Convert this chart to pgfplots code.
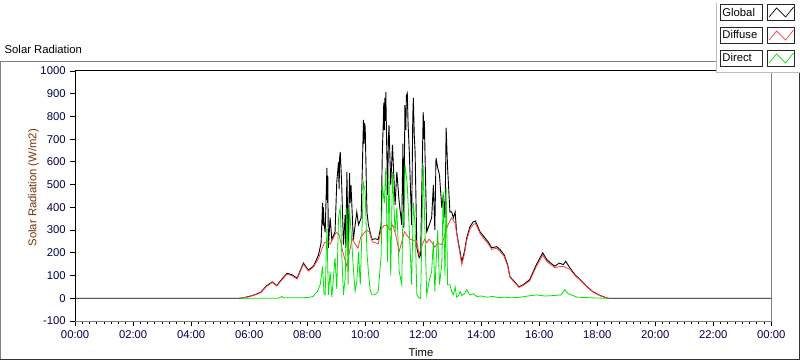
\documentclass[border=0pt]{standalone}
\usepackage{fontspec}
\setmainfont{Liberation Sans}
\usepackage{pgfplots}
\pgfplotsset{compat=1.18}
\definecolor{tickblue}{RGB}{0,0,80}
\definecolor{labbrown}{RGB}{120,50,10}
\definecolor{dgreen}{RGB}{0,230,0}
\definecolor{dred}{RGB}{255,60,60}
\definecolor{pgray}{RGB}{128,128,128}
\begin{document}
\begin{tikzpicture}[x=1pt,y=1pt,font=\fontsize{11.3}{13}\selectfont]
\path[fill=white] (0,0) rectangle (800,361);
\draw[pgray,line width=1pt] (0.5,2) -- (0.5,299) -- (717,299);
\draw[black!80,line width=1pt] (0,1.5) -- (799.5,1.5) -- (799.5,289);
\node[anchor=west,inner sep=0] at (4,311) {Solar Radiation};
\node[rotate=90,text=labbrown,inner sep=0] at (33,173) {Solar Radiation (W/m2)};
\node[inner sep=0] at (421,8) {Time};
\begin{axis}[at={(74.7pt,39.6pt)},anchor=south west,width=697pt,height=250.4pt,scale only axis,
  xmin=0,xmax=24,ymin=-100,ymax=1000,
  axis line style={draw=none},
  xtick={0,2,...,24},
  xticklabels={00:00,02:00,04:00,06:00,08:00,10:00,12:00,14:00,16:00,18:00,20:00,22:00,00:00},
  minor x tick num=7,
  ytick={-100,0,100,200,300,400,500,600,700,800,900,1000},
  yticklabels={-100,0,100,200,300,400,500,600,700,800,900,1000},
  tick align=outside, xtick pos=bottom, ytick pos=left,
  major tick length=5pt, minor tick length=3pt,
  tick style={black,line width=0.8pt},
  ticklabel style={font=\fontsize{11.3}{13}\selectfont,text=tickblue},
  xticklabel style={yshift=-1pt},
  yticklabel style={xshift=-1pt},
]
\addplot[black,line width=0.9pt] coordinates {
(0,0) (5.6,0) (5.75,1) (6.0,8) (6.2,16) (6.4,27) (6.6,55) (6.8,72) (6.95,56) (7.1,80) (7.3,110) (7.47,104) (7.65,88) (7.87,155) (8.04,124) (8.22,142) (8.39,190) (8.48,245) (8.53,420) (8.55,320) (8.56,400) (8.58,330) (8.62,290) (8.68,574) (8.70,420) (8.71,540) (8.73,222) (8.79,355) (8.85,258) (8.96,292) (9.02,512) (9.08,600) (9.10,480) (9.12,620) (9.14,644) (9.19,500) (9.25,236) (9.31,367) (9.33,222) (9.37,556) (9.41,205) (9.46,552) (9.48,420) (9.51,499) (9.59,258) (9.71,380) (9.77,323) (9.86,354) (9.94,785) (9.96,680) (9.98,770) (10.0,750) (10.06,380) (10.11,323) (10.23,258) (10.34,262) (10.45,258) (10.55,323) (10.59,644) (10.62,760) (10.64,860) (10.66,740) (10.68,881) (10.70,780) (10.71,907) (10.77,455) (10.80,700) (10.82,762) (10.88,499) (10.94,675) (11.03,411) (11.09,556) (11.17,425) (11.26,323) (11.30,680) (11.33,310) (11.37,850) (11.40,740) (11.42,890) (11.45,902) (11.48,760) (11.52,644) (11.6,323) (11.64,800) (11.66,881) (11.69,720) (11.72,644) (11.78,222) (11.86,178) (11.91,191) (12.0,819) (12.02,700) (12.04,780) (12.06,644) (12.12,292) (12.21,323) (12.29,354) (12.35,499) (12.40,300) (12.44,617) (12.5,574) (12.56,543) (12.64,398) (12.69,455) (12.75,354) (12.79,750) (12.84,574) (12.92,380) (12.98,380) (13.04,354) (13.1,380) (13.15,292) (13.21,248) (13.33,161) (13.42,205) (13.5,265) (13.61,315) (13.72,336) (13.8,340) (13.96,292) (14.13,265) (14.24,248) (14.36,222) (14.53,227) (14.65,214) (14.79,191) (14.91,148) (14.99,95) (15.14,74) (15.3,50) (15.45,60) (15.67,82) (15.9,148) (16.12,200) (16.26,170) (16.43,151) (16.54,141) (16.69,155) (16.83,148) (16.91,163) (17.06,133) (17.23,104) (17.41,82) (17.63,53) (17.86,28) (18.1,12) (18.37,0) (24,0)
};
\addplot[dred,line width=0.8pt] coordinates {
(5.7,0) (5.75,1) (6.0,7) (6.2,15) (6.4,25) (6.6,52) (6.8,70) (6.95,54) (7.1,77) (7.3,106) (7.47,100) (7.65,85) (7.87,150) (8.04,120) (8.22,138) (8.39,175) (8.5,215) (8.6,245) (8.7,250) (8.8,240) (8.9,265) (9.0,290) (9.1,280) (9.2,220) (9.3,170) (9.37,140) (9.45,200) (9.55,262) (9.65,240) (9.75,220) (9.85,270) (9.95,285) (10.05,300) (10.15,290) (10.25,248) (10.35,244) (10.45,240) (10.55,305) (10.65,320) (10.75,322) (10.85,300) (10.95,322) (11.05,280) (11.17,205) (11.26,248) (11.35,292) (11.45,275) (11.55,260) (11.65,255) (11.78,248) (11.86,191) (11.95,230) (12.05,260) (12.12,244) (12.2,260) (12.3,245) (12.4,225) (12.5,242) (12.64,236) (12.75,280) (12.85,323) (12.98,354) (13.1,330) (13.21,240) (13.33,148) (13.42,195) (13.5,255) (13.61,305) (13.72,323) (13.8,330) (13.96,285) (14.13,255) (14.24,240) (14.36,215) (14.53,220) (14.65,206) (14.79,184) (14.91,142) (14.99,92) (15.14,71) (15.3,48) (15.45,57) (15.67,76) (15.9,140) (16.12,190) (16.26,162) (16.43,145) (16.54,135) (16.69,139) (16.83,140) (16.91,135) (17.06,128) (17.23,100) (17.41,80) (17.63,51) (17.86,27) (18.1,11) (18.37,0) (18.4,0)
};
\addplot[dgreen,line width=0.8pt] coordinates {
(5.7,0) (7.0,0) (7.12,8) (7.2,2) (8.0,3) (8.2,8) (8.35,30) (8.45,60) (8.53,140) (8.58,20) (8.62,16) (8.68,310) (8.73,15) (8.79,117) (8.85,5) (8.96,178) (9.02,40) (9.08,354) (9.14,398) (9.19,200) (9.25,15) (9.31,90) (9.37,398) (9.41,60) (9.46,390) (9.51,300) (9.59,135) (9.65,30) (9.71,74) (9.77,205) (9.83,60) (9.94,507) (10.0,469) (10.06,200) (10.11,117) (10.17,38) (10.23,16) (10.34,16) (10.45,29) (10.55,191) (10.59,499) (10.66,420) (10.71,574) (10.77,161) (10.82,543) (10.88,100) (10.94,556) (11.03,292) (11.09,400) (11.17,120) (11.26,60) (11.3,380) (11.33,336) (11.37,587) (11.45,499) (11.52,300) (11.6,60) (11.66,420) (11.72,323) (11.78,16) (11.86,0) (11.91,0) (12.0,587) (12.06,292) (12.12,16) (12.21,80) (12.29,117) (12.35,250) (12.40,30) (12.44,148) (12.5,300) (12.56,60) (12.64,150) (12.69,469) (12.75,100) (12.79,486) (12.84,60) (12.92,60) (12.98,30) (13.04,16) (13.1,50) (13.15,5) (13.21,10) (13.27,30) (13.33,12) (13.42,20) (13.5,38) (13.6,15) (13.72,20) (13.85,8) (14.0,10) (14.2,5) (14.4,8) (14.6,3) (14.8,5) (15.0,2) (15.3,4) (15.6,10) (15.9,15) (16.2,10) (16.5,12) (16.75,15) (16.88,38) (17.0,20) (17.3,5) (17.8,2) (18.3,0) (18.4,0)
};
\end{axis}
\draw[black,line width=1pt] (74.7,39.6) -- (74.7,290) -- (771.7,290);
\draw[pgray,line width=1pt] (771.7,290) -- (771.7,39.6) -- (74.7,39.6);
% legend
\fill[white] (717,289) rectangle (800,361);
\draw[black!25,line width=0.8pt] (717,358) -- (717,289) -- (800,289);
\foreach \name/\col/\dy in {Global/black/0,Diffuse/dred/23,Direct/dgreen/46}{
  \draw[black!85,line width=0.8pt] (720.5,341-\dy) rectangle (763,357-\dy);
  \node[anchor=west,inner sep=0] at (722.5,349-\dy) {\name};
  \draw[black!85,line width=0.8pt] (767.5,341-\dy) rectangle (795,357-\dy);
  \draw[\col,line width=0.7pt] (769.5,344-\dy) -- (777,353-\dy) -- (786,344-\dy) -- (794,354-\dy);
}
\end{tikzpicture}
\end{document}
